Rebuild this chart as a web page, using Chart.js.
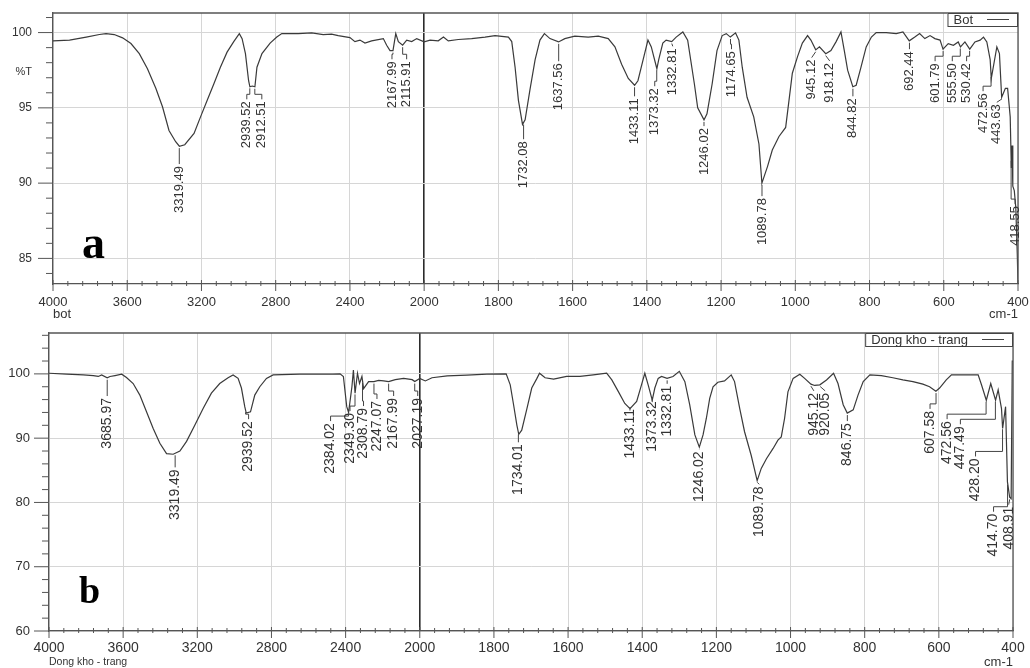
<!DOCTYPE html>
<html>
<head>
<meta charset="utf-8">
<style>
  html, body { margin: 0; padding: 0; background: #fff; }
  canvas { display: block; }
</style>
</head>
<body>
<canvas id="chartA" width="1030" height="325"></canvas>
<canvas id="chartB" width="1030" height="343"></canvas>

<script src="https://cdn.jsdelivr.net/npm/chart.js@4.4.1/dist/chart.umd.min.js"></script>
<script>
// x axis labels (scale changes at 2000 cm-1: 400 per step on the left, 200 per step on the right)
const xTickLabels = [4000, 3600, 3200, 2800, 2400, 2000, 1800, 1600, 1400, 1200, 1000, 800, 600, 400];

// spectrum a - "Bot"
const wnA = [4000, 3911, 3821, 3750, 3714, 3670, 3625, 3580, 3535, 3491, 3446, 3410, 3375, 3339, 3319, 3290, 3240, 3205, 3169, 3133,
  3098, 3062, 3026, 2996, 2981, 2963, 2946, 2939, 2926, 2912, 2901, 2874, 2830, 2794, 2767, 2678, 2606, 2544, 2499, 2463,
  2400, 2373, 2346, 2319, 2283, 2220, 2202, 2184, 2168, 2153, 2139, 2116, 2094, 2067, 2040, 2000, 1984, 1962, 1948, 1935,
  1908, 1872, 1836, 1809, 1773, 1764, 1755, 1746, 1735, 1728, 1715, 1701, 1688, 1676, 1661, 1638, 1621, 1594, 1558, 1531,
  1504, 1486, 1468, 1450, 1433, 1424, 1410, 1397, 1388, 1373, 1368, 1357, 1348, 1333, 1321, 1303, 1290, 1272, 1263, 1246,
  1238, 1224, 1211, 1197, 1186, 1175, 1161, 1152, 1143, 1130, 1112, 1098, 1090, 1075, 1062, 1044, 1026, 1017, 1008, 994,
  981, 967, 958, 945, 935, 918, 904, 890, 877, 868, 859, 845, 836, 823, 809, 795, 782, 755, 728, 710,
  693, 678, 665, 651, 637, 624, 610, 602, 588, 574, 561, 555, 543, 530, 516, 502, 493, 484, 475, 472,
  457, 450, 444, 434, 428, 421, 418, 416, 414, 410, 406, 402, 400];
const tA = [99.45, 99.5, 99.7, 99.87, 99.93, 99.87, 99.65, 99.27, 98.6, 97.6, 96.3, 95.07, 93.5, 92.75, 92.45, 92.55, 93.3, 94.4, 95.5, 96.6,
  97.7, 98.7, 99.4, 99.93, 99.6, 98.6, 96.8, 96.4, 96.45, 96.4, 97.7, 98.6, 99.3, 99.7, 99.93, 99.93, 99.98, 99.87, 99.9, 99.8,
  99.67, 99.4, 99.5, 99.3, 99.45, 99.6, 99.16, 98.8, 98.8, 99.93, 99.4, 99.16, 99.5, 99.4, 99.6, 99.38, 99.5, 99.45, 99.7, 99.45,
  99.54, 99.6, 99.7, 99.8, 99.7, 99.4, 97.7, 95.5, 93.9, 94.2, 96.2, 98.2, 99.5, 99.93, 99.6, 99.38, 99.6, 99.76, 99.7, 99.76,
  99.6, 99.05, 97.9, 96.95, 96.5, 96.8, 98.2, 99.5, 99.05, 97.6, 98.2, 99.3, 99.5, 99.4, 99.7, 100.04, 99.5, 96.6, 95.0, 94.2,
  94.6, 96.6, 98.8, 99.8, 99.93, 99.7, 99.98, 99.5, 97.7, 95.7, 94.4, 92.6, 90.0, 91.1, 92.2, 93.1, 93.7, 95.5, 97.3, 98.4,
  99.3, 99.8, 99.5, 98.85, 99.05, 98.6, 98.8, 99.4, 100.04, 98.8, 97.5, 96.4, 96.5, 97.7, 99.05, 99.7, 100, 100, 99.93, 100.04,
  99.45, 99.7, 99.93, 99.6, 99.8, 99.6, 99.5, 98.9, 99.27, 99.16, 99.38, 99.05, 99.38, 98.9, 99.38, 99.5, 99.7, 99.38, 98.2, 96.95,
  99.05, 98.6, 95.7, 96.3, 96.3, 94.4, 91.0, 92.5, 89.8, 89.5, 88.4, 85.3, 83.3];

// spectrum b - "Dong kho - trang"
const wnB = [4000, 3905, 3815, 3761, 3734, 3716, 3686, 3671, 3644, 3608, 3582, 3546, 3510, 3474, 3438, 3402, 3366, 3330, 3294, 3258,
  3213, 3168, 3124, 3079, 3034, 3007, 2980, 2962, 2944, 2936, 2913, 2890, 2863, 2827, 2791, 2648, 2468, 2430, 2412, 2394,
  2384, 2366, 2358, 2349, 2336, 2325, 2312, 2303, 2276, 2247, 2222, 2195, 2168, 2132, 2087, 2041, 2027, 2000, 1985, 1967,
  1926, 1873, 1819, 1767, 1756, 1747, 1738, 1733, 1725, 1711, 1698, 1684, 1677, 1662, 1639, 1604, 1568, 1532, 1496, 1482,
  1464, 1447, 1433, 1415, 1402, 1393, 1384, 1373, 1366, 1357, 1348, 1333, 1317, 1300, 1285, 1272, 1258, 1246, 1236, 1227,
  1218, 1209, 1196, 1178, 1160, 1151, 1137, 1124, 1106, 1090, 1079, 1065, 1047, 1034, 1025, 1016, 1007, 993, 975, 962,
  945, 935, 921, 903, 884, 872, 858, 847, 831, 818, 804, 786, 755, 724, 697, 670, 643, 625, 608, 598,
  580, 566, 535, 494, 485, 472, 460, 447, 440, 431, 428, 420, 415, 409, 405, 402, 400];
const tB = [100.1, 99.95, 99.85, 99.74, 99.6, 99.85, 99.4, 99.6, 99.74, 99.95, 99.43, 98.5, 96.7, 94.1, 91.5, 89.2, 87.6, 87.5, 88.0, 89.5,
  92.05, 94.65, 97.0, 98.5, 99.4, 99.84, 99.3, 97.8, 94.9, 93.9, 94.1, 96.7, 98.0, 99.3, 99.85, 99.95, 99.95, 100.0, 99.6, 94.9,
  94.0, 98.0, 100.6, 97.0, 100.1, 98.5, 99.6, 97.7, 98.8, 98.8, 99.0, 98.9, 98.8, 99.1, 99.3, 99.1, 98.8, 99.3, 98.9, 99.4,
  99.7, 99.8, 99.95, 100, 98.3, 95.2, 92.0, 90.6, 91.25, 94.6, 97.8, 99.3, 100.1, 99.4, 99.2, 99.6, 99.6, 99.84, 100.1, 99.06,
  97.2, 95.4, 94.6, 95.7, 98.3, 100.1, 98.3, 95.9, 97.8, 99.3, 99.6, 99.3, 99.6, 100.4, 98.8, 95.2, 90.5, 88.6, 90.5, 93.1,
  96.2, 98.0, 98.7, 98.9, 99.84, 98.8, 94.6, 91.0, 87.3, 83.4, 85.3, 86.8, 88.4, 89.7, 90.2, 93.1, 97.2, 99.3, 99.95, 99.3,
  98.4, 98.2, 98.3, 99.06, 100.1, 98.5, 95.2, 93.9, 94.4, 96.7, 98.8, 99.84, 99.74, 99.4, 99.06, 98.8, 98.4, 98.0, 97.3, 97.8,
  99.06, 99.84, 99.84, 99.84, 98.3, 95.9, 98.5, 95.9, 97.5, 94.6, 91.5, 94.9, 83.2, 80.8, 80.6, 102, 102];

// peak labels
const peaksA = ['3319.49', '2939.52', '2912.51', '2167.99', '2115.91', '1732.08', '1637.56', '1433.11', '1373.32', '1332.81',
  '1246.02', '1174.65', '1089.78', '945.12', '918.12', '844.82', '692.44', '601.79', '555.50', '530.42', '472.56', '443.63', '418.55'];
const peaksB = ['3685.97', '3319.49', '2939.52', '2384.02', '2349.30', '2308.79', '2247.07', '2167.99', '2027.19', '1734.01',
  '1433.11', '1373.32', '1332.81', '1246.02', '1089.78', '945.12', '920.05', '846.75', '607.58', '472.56', '447.49', '428.20',
  '414.70', '408.91'];

// where each peak label sits: [pixel shift from the peak, %T at the top of the text]
const placeA = [[0, 91.2], [-3, 95.5], [7, 95.5], [-1, 98.16], [4, 98.16], [0, 92.85], [0, 98.03], [0, 95.7], [-2, 96.37], [1, 99.02],
  [0, 93.72], [1, 98.83], [0, 89.07], [-4, 98.27], [4, 98.05], [0, 95.7], [0, 98.83], [-8, 98.03], [-8, 98.03], [-3, 98.03],
  [-8, 96.04], [-5, 95.3], [4, 88.54]];
const placeB = [[0, 96.4], [0, 85.3], [3, 92.8], [-18, 92.5], [-5, 94.06], [1, 94.84], [3, 95.94], [5, 96.4], [3, 96.4], [0, 89.2],
  [0, 94.7], [0, 95.9], [0, 98.3], [0, 88.1], [2, 82.66], [3, 97.2], [5, 97.2], [0, 92.5], [-6, 94.4], [-39, 92.8], [-35, 92.0],
  [-27, 87.0], [-14, 78.4], [-1, 79.5]];

// wavenumber -> position on the split axis
function u(w) { return w >= 2000 ? (4000 - w) / 400 : 5 + (2000 - w) / 200; }

function tAt(wn, t, w) {
  for (let i = 0; i < wn.length - 1; i++) {
    if (w <= wn[i] && w >= wn[i + 1]) {
      const f = (wn[i] - w) / (wn[i] - wn[i + 1]);
      return t[i] + f * (t[i + 1] - t[i]);
    }
  }
  return t[t.length - 1];
}

const INK = '#3a3a3a';
const AXIS = '#555';

function noPad(s) {
  s.paddingTop = 0; s.paddingBottom = 0; s.paddingLeft = 0; s.paddingRight = 0;
}

function decor(cfg) {
  return {
    id: 'decor',
    afterDraw(chart) {
      const ctx = chart.ctx;
      const xs = chart.scales.x, ys = chart.scales.y;
      const a = chart.chartArea;
      ctx.save();

      // frame top/right
      ctx.strokeStyle = AXIS;
      ctx.lineWidth = 1.3;
      ctx.beginPath();
      ctx.moveTo(a.left, a.top); ctx.lineTo(a.right, a.top); ctx.lineTo(a.right, a.bottom);
      ctx.stroke();

      // tick marks
      ctx.lineWidth = 1;
      ctx.beginPath();
      for (let i = 0; i <= 13; i++) {
        const x = xs.getPixelForValue(i);
        ctx.moveTo(x, a.bottom - 4); ctx.lineTo(x, a.bottom + 7);
        if (i < 13) {
          for (let k = 1; k < 5; k++) {
            const xm = xs.getPixelForValue(i + k / 5);
            ctx.moveTo(xm, a.bottom - 3); ctx.lineTo(xm, a.bottom + 2);
          }
        }
      }
      for (let v = Math.ceil(cfg.ymin); v <= cfg.ymax; v += cfg.yMinor) {
        const y = ys.getPixelForValue(v);
        const major = cfg.yTicks.includes(v);
        ctx.moveTo(a.left - (major ? 15 : 7), y); ctx.lineTo(a.left, y);
      }
      ctx.stroke();

      // peak labels
      ctx.strokeStyle = '#444';
      ctx.fillStyle = '#333';
      ctx.font = cfg.peakFont + 'px "Liberation Sans", Arial, sans-serif';
      cfg.peaks.forEach((txt, i) => {
        const w = parseFloat(txt);
        const [dx, topV] = cfg.place[i];
        const px = xs.getPixelForValue(u(w));
        const py = ys.getPixelForValue(tAt(cfg.wn, cfg.t, w));
        const lx = px + dx;
        const ty = ys.getPixelForValue(topV);
        ctx.beginPath();
        ctx.moveTo(px, py + 2);
        const knee = ty - 6;
        if (Math.abs(dx) > 0.5 && knee > py + 3) {
          ctx.lineTo(px, knee);
          ctx.lineTo(lx, knee);
        }
        ctx.lineTo(lx, ty - 1);
        ctx.stroke();
        ctx.save();
        ctx.translate(lx, ty + 1);
        ctx.rotate(-Math.PI / 2);
        ctx.textAlign = 'right';
        ctx.textBaseline = 'middle';
        ctx.fillText(txt, 0, 0);
        ctx.restore();
      });

      // legend box, top right inside the frame
      ctx.font = '13px "Liberation Sans", Arial, sans-serif';
      const label = chart.data.datasets[0].label;
      const tw = ctx.measureText(label).width;
      const bw = 6 + tw + 14 + 22 + 9, bh = 13;
      const bx = a.right - bw, by = a.top;
      ctx.fillStyle = '#fff';
      ctx.fillRect(bx, by, bw, bh);
      ctx.strokeStyle = '#444';
      ctx.strokeRect(bx + 0.5, by + 0.5, bw - 1, bh);
      ctx.fillStyle = '#333';
      ctx.textAlign = 'left';
      ctx.textBaseline = 'middle';
      ctx.fillText(label, bx + 6, by + bh / 2 + 1);
      ctx.beginPath();
      ctx.moveTo(bx + 6 + tw + 14, by + bh / 2); ctx.lineTo(bx + 6 + tw + 36, by + bh / 2);
      ctx.stroke();

      // panel letter
      ctx.fillStyle = '#000';
      ctx.font = 'bold ' + cfg.letterSize + 'px "Liberation Serif", "Times New Roman", serif';
      ctx.textBaseline = 'alphabetic';
      ctx.fillText(cfg.letter, a.left + cfg.letterDx, a.bottom - cfg.letterDy);

      // axis captions
      ctx.fillStyle = '#333';
      ctx.textBaseline = 'middle';
      ctx.font = cfg.nameSize + 'px "Liberation Sans", Arial, sans-serif';
      ctx.fillText(cfg.name, a.left, a.bottom + cfg.captionDy);
      ctx.font = '13px "Liberation Sans", Arial, sans-serif';
      ctx.textAlign = 'right';
      ctx.fillText('cm-1', a.right, a.bottom + cfg.captionDy);
      if (cfg.unit) {
        ctx.font = '11px "Liberation Sans", Arial, sans-serif';
        ctx.fillText(cfg.unit, 32, ys.getPixelForValue(97.4));
      }
      ctx.restore();
    }
  };
}

function makeChart(id, cfg) {
  const pts = cfg.wn.map((w, i) => ({ x: u(w), y: cfg.t[i] }));
  return new Chart(document.getElementById(id), {
    type: 'line',
    data: {
      datasets: [{
        label: cfg.label,
        data: pts,
        borderColor: INK,
        borderWidth: 1.2,
        pointRadius: 0,
        tension: 0,
        fill: false
      }]
    },
    options: {
      responsive: false,
      animation: false,
      layout: { padding: cfg.pad },
      plugins: { legend: { display: false }, tooltip: { enabled: false } },
      scales: {
        x: {
          type: 'linear', min: 0, max: 13,
          afterBuildTicks: s => { s.ticks = xTickLabels.map((_, i) => ({ value: i })); },
          afterFit: s => { s.height = cfg.xAxisH; noPad(s); },
          ticks: {
            callback: v => xTickLabels[v],
            autoSkip: false, maxRotation: 0,
            padding: cfg.xPad,
            color: '#333',
            font: { family: '"Liberation Sans", Arial, sans-serif', size: cfg.xFont }
          },
          grid: {
            drawTicks: false,
            color: c => (c.tick && c.tick.value === 5 ? '#2b2b2b' : '#d6d6d6'),
            lineWidth: c => (c.tick && c.tick.value === 5 ? 1.6 : 1)
          },
          border: { color: AXIS, width: 1.3 }
        },
        y: {
          type: 'linear', min: cfg.ymin, max: cfg.ymax,
          afterBuildTicks: s => { s.ticks = cfg.yTicks.map(v => ({ value: v })); },
          afterFit: s => { s.width = cfg.yAxisW; noPad(s); },
          ticks: {
            padding: cfg.yPad,
            color: '#333',
            font: { family: '"Liberation Sans", Arial, sans-serif', size: cfg.yFont }
          },
          grid: { drawTicks: false, color: '#d6d6d6' },
          border: { color: AXIS, width: 1.3 }
        }
      }
    },
    plugins: [decor(cfg)]
  });
}

makeChart('chartA', {
  label: 'Bot', name: 'bot', unit: '%T', letter: 'a',
  wn: wnA, t: tA, peaks: peaksA, place: placeA,
  ymin: 83.3, ymax: 101.3, yTicks: [85, 90, 95, 100], yMinor: 1,
  pad: { top: 13, right: 12, left: 0, bottom: 0 },
  xAxisH: 41, yAxisW: 53, xPad: 11, yPad: 21, xFont: 13, yFont: 12,
  peakFont: 13, letterSize: 46, letterDx: 29, letterDy: 26, nameSize: 13, captionDy: 30
});

makeChart('chartB', {
  label: 'Dong kho - trang', name: 'Dong kho - trang', unit: null, letter: 'b',
  wn: wnB, t: tB, peaks: peaksB, place: placeB,
  ymin: 60, ymax: 106.36, yTicks: [60, 70, 80, 90, 100], yMinor: 2,
  pad: { top: 8, right: 17, left: 0, bottom: 0 },
  xAxisH: 37, yAxisW: 49, xPad: 9, yPad: 19, xFont: 14, yFont: 13,
  peakFont: 14, letterSize: 38, letterDx: 30, letterDy: 28, nameSize: 10.5, captionDy: 31
});
</script>
</body>
</html>
